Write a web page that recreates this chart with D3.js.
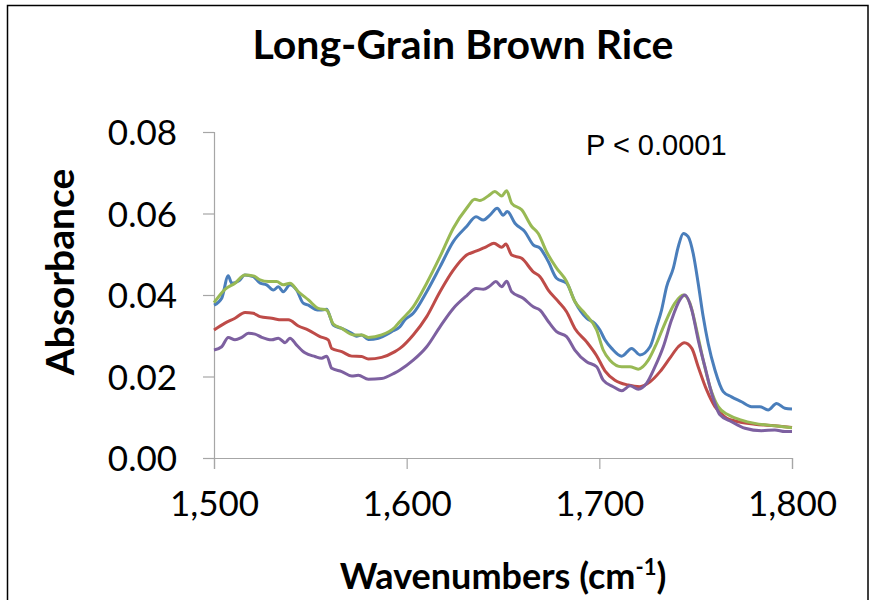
<!DOCTYPE html>
<html>
<head>
<meta charset="utf-8">
<script src="https://cdn.jsdelivr.net/npm/d3@7"></script>
<style>
  body { margin: 0; background: #fff; }
  svg { display: block; }
</style>
</head>
<body>
<svg id="chart"></svg>
<script>
// spectra, [wavenumber, absorbance] pairs, one array per sample
var blueSpec = [
  [1500,0.0375],[1504,0.0392],[1507.4,0.0447],[1509.2,0.0429],[1513,0.0435],[1516,0.0449],
  [1520.4,0.0445],[1524,0.0429],[1527.3,0.0425],[1530.8,0.0412],[1533.4,0.0420],[1536,0.0408],
  [1539.4,0.0425],[1542.9,0.0412],[1546.3,0.0380],[1549,0.0375],[1552.4,0.0365],[1555,0.0363],
  [1558.5,0.0365],[1560.2,0.0347],[1561.9,0.0326],[1566.3,0.0318],[1571.5,0.0306],[1574,0.0299],
  [1576.6,0.0302],[1580.1,0.0291],[1585.3,0.0294],[1592.2,0.0310],[1596.5,0.0322],[1599.1,0.0339],
  [1603.4,0.0355],[1610.4,0.0408],[1617.3,0.0469],[1624.2,0.0531],[1631.1,0.0568],[1636,0.0592],
  [1639.8,0.0584],[1643.2,0.0596],[1647,0.0613],[1650.1,0.0596],[1652.2,0.0605],[1656.2,0.0576],
  [1661.4,0.0555],[1665.7,0.0523],[1669.2,0.0515],[1673.5,0.0482],[1677.8,0.0441],[1683,0.0429],
  [1687.3,0.0384],[1693.4,0.0343],[1697.7,0.0330],[1700.3,0.0314],[1702.9,0.0290],[1706.4,0.0269],
  [1711.6,0.0250],[1716.8,0.0269],[1721.1,0.0253],[1726.3,0.0273],[1729.7,0.0322],[1732.3,0.0363],
  [1734.9,0.0420],[1738.4,0.0466],[1741,0.0519],[1743.6,0.0551],[1746.1,0.0543],[1748.7,0.0502],
  [1751.3,0.0429],[1753.9,0.0347],[1756.5,0.0281],[1760,0.0216],[1764.3,0.0163],[1768.6,0.0150],
  [1773.8,0.0138],[1779,0.0126],[1783.3,0.0126],[1787.6,0.0118],[1792,0.0134],[1796.3,0.0122],
  [1800,0.0120]
];

var redSpec = [
  [1500,0.0314],[1505.7,0.0331],[1510.9,0.0343],[1516.1,0.0357],[1520.4,0.0355],[1523.9,0.0347],
  [1530,0.0343],[1535.1,0.0339],[1538.6,0.0339],[1543.8,0.0324],[1549,0.0314],[1555,0.0298],
  [1559.3,0.0290],[1561.1,0.0269],[1566.3,0.0261],[1571.5,0.0250],[1576.6,0.0249],[1580.1,0.0243],
  [1587,0.0247],[1593.9,0.0261],[1596.5,0.0269],[1603.4,0.0302],[1610.4,0.0347],[1617.3,0.0408],
  [1624.2,0.0461],[1631.1,0.0498],[1636.3,0.0508],[1641.5,0.0519],[1645.3,0.0527],[1649.3,0.0517],
  [1651.5,0.0525],[1654.5,0.0498],[1659.7,0.0490],[1665.7,0.0457],[1669.2,0.0445],[1673.5,0.0412],
  [1678.7,0.0384],[1683,0.0359],[1687.3,0.0318],[1693.4,0.0285],[1698.6,0.0251],[1702.9,0.0214],
  [1708.1,0.0191],[1715,0.0179],[1721.1,0.0175],[1726.3,0.0187],[1731.5,0.0212],[1736.6,0.0245],
  [1741,0.0273],[1744.1,0.0283],[1748,0.0269],[1751.3,0.0224],[1755.7,0.0167],[1760,0.0126],
  [1765.2,0.0101],[1772.1,0.0089],[1780.7,0.0083],[1791.1,0.0079],[1800,0.0075]
];

var greenSpec = [
  [1500,0.0381],[1505.7,0.0414],[1510.9,0.0429],[1516.1,0.0449],[1520.4,0.0447],[1523.9,0.0437],
  [1528.2,0.0433],[1532.5,0.0433],[1536,0.0425],[1539.4,0.0429],[1543.8,0.0408],[1549,0.0388],
  [1554.1,0.0367],[1558.5,0.0363],[1561.9,0.0329],[1566.3,0.0318],[1572.3,0.0302],[1576.6,0.0302],
  [1580.1,0.0296],[1587,0.0302],[1593.9,0.0321],[1596.5,0.0335],[1603.4,0.0371],[1610.4,0.0429],
  [1617.3,0.0494],[1624.2,0.0564],[1631.1,0.0613],[1635.4,0.0635],[1638,0.0632],[1642.3,0.0643],
  [1645.8,0.0654],[1649.3,0.0643],[1651.9,0.0656],[1654.5,0.0625],[1659.7,0.0609],[1664.9,0.0568],
  [1668.3,0.0551],[1672.6,0.0506],[1677.8,0.0466],[1683,0.0433],[1687.3,0.0384],[1692.5,0.0355],
  [1698.6,0.0314],[1702,0.0265],[1705.5,0.0240],[1711.6,0.0224],[1715.9,0.0224],[1720.2,0.0218],
  [1725.4,0.0240],[1729.7,0.0281],[1734,0.0330],[1739.2,0.0380],[1743.6,0.0400],[1747,0.0380],
  [1750.5,0.0314],[1753.9,0.0240],[1757.4,0.0175],[1761.7,0.0126],[1766.9,0.0106],[1773.8,0.0093],
  [1780.7,0.0085],[1791.1,0.0079],[1800,0.0074]
];

var purpleSpec = [
  [1500,0.0265],[1504,0.0273],[1507.4,0.0296],[1510.9,0.0290],[1514.4,0.0296],[1517.8,0.0306],
  [1521.3,0.0304],[1524.8,0.0296],[1530,0.0290],[1533.4,0.0294],[1536.9,0.0283],[1539.4,0.0294],
  [1542.9,0.0277],[1547.2,0.0258],[1552.4,0.0249],[1555.9,0.0245],[1558.5,0.0250],[1561.1,0.0220],
  [1566.3,0.0212],[1571.5,0.0201],[1574.9,0.0203],[1580.1,0.0193],[1587,0.0195],[1593.9,0.0209],
  [1596.5,0.0216],[1603.4,0.0240],[1610.4,0.0273],[1617.3,0.0322],[1624.2,0.0367],[1631.1,0.0398],
  [1636,0.0416],[1639.8,0.0414],[1643.2,0.0422],[1646.3,0.0433],[1649.3,0.0420],[1651.9,0.0434],
  [1654.5,0.0408],[1660.5,0.0392],[1665.7,0.0371],[1669.2,0.0363],[1673.5,0.0335],[1677.8,0.0310],
  [1683,0.0298],[1687.3,0.0265],[1693.4,0.0236],[1698.6,0.0224],[1702,0.0191],[1707.2,0.0175],
  [1711.6,0.0165],[1715.9,0.0177],[1720.2,0.0169],[1724.5,0.0183],[1728.9,0.0224],[1733.2,0.0273],
  [1737.5,0.0339],[1741.8,0.0388],[1744.4,0.0400],[1748,0.0363],[1751.3,0.0290],[1754.8,0.0224],
  [1758.3,0.0159],[1762.6,0.0106],[1768.6,0.0089],[1775.6,0.0073],[1784.2,0.0067],[1791.1,0.0069],
  [1796.3,0.0065],[1800,0.0065]
];

var xTicks = [1500, 1600, 1700, 1800];
var yTicks = [0, 0.02, 0.04, 0.06, 0.08];

// drawing order matters where the traces overlap
var series = [
  {name: "blue",   color: "#4a7ebb", values: blueSpec},
  {name: "red",    color: "#be4b48", values: redSpec},
  {name: "green",  color: "#98b954", values: greenSpec},
  {name: "purple", color: "#7d60a0", values: purpleSpec}
];

var screen = {width: 875, height: 600};
var margins = {left: 214, top: 132, right: 83, bottom: 142};

var xScale = d3.scaleLinear()
               .domain([1500, 1800])
               .range([margins.left, screen.width - margins.right]);

var yScale = d3.scaleLinear()
               .domain([0, 0.08])
               .range([screen.height - margins.bottom, margins.top]);

var svg = d3.select("#chart")
            .attr("width", screen.width)
            .attr("height", screen.height);

// outer frame, runs off the bottom of the page
svg.append("rect")
   .attr("x", 7.5)
   .attr("y", 5.5)
   .attr("width", 860.5)
   .attr("height", 640)
   .attr("fill", "none")
   .attr("stroke", "#000")
   .attr("stroke-width", 1.5);

var axisColor = "#a6a6a6";
var tickFont = "Lato, 'Open Sans', sans-serif";

//y-axis
var yAxis = d3.axisLeft(yScale)
              .tickValues(yTicks)
              .tickSize(11)
              .tickPadding(26)
              .tickFormat(d3.format(".2f"));

var gy = svg.append("g")
            .attr("transform", "translate(" + margins.left + ",0)")
            .call(yAxis);

//x-axis
var xAxis = d3.axisBottom(xScale)
              .tickValues(xTicks)
              .tickSize(11)
              .tickPadding(20)
              .tickFormat(d3.format(","));

var gx = svg.append("g")
            .attr("transform", "translate(0," + yScale(0) + ")")
            .call(xAxis);

[gx, gy].forEach(function(g) {
  g.select(".domain").attr("stroke", axisColor).attr("stroke-width", 1.2);
  g.selectAll(".tick line").attr("stroke", axisColor).attr("stroke-width", 1.2);
  g.selectAll(".tick text")
   .attr("fill", "#000")
   .style("font-family", tickFont)
   .style("font-size", "35px");
});
gy.selectAll(".tick text").attr("dy", "0.36em");
gx.selectAll(".tick text").attr("dy", "0.78em");

// spectra
var line = d3.line()
             .x(function(d) {return xScale(d[0]);})
             .y(function(d) {return yScale(d[1]);})
             .curve(d3.curveMonotoneX);

svg.selectAll("path.spectrum")
   .data(series)
   .enter()
   .append("path")
   .classed("spectrum", true)
   .attr("d", function(d) {return line(d.values);})
   .attr("fill", "none")
   .attr("stroke", function(d) {return d.color;})
   .attr("stroke-width", 3)
   .attr("stroke-linejoin", "round");

//titles
svg.append("text")
   .attr("x", 463)
   .attr("y", 59)
   .attr("text-anchor", "middle")
   .style("font-family", tickFont)
   .style("font-weight", "bold")
   .style("font-size", "41px")
   .text("Long-Grain Brown Rice");

svg.append("text")
   .attr("transform", "translate(74,272) rotate(-90)")
   .attr("text-anchor", "middle")
   .style("font-family", tickFont)
   .style("font-weight", "bold")
   .style("font-size", "39px")
   .text("Absorbance");

var xTitle = svg.append("text")
   .attr("x", (xScale(1500) + xScale(1800)) / 2)
   .attr("y", 589)
   .attr("text-anchor", "middle")
   .style("font-family", tickFont)
   .style("font-weight", "bold")
   .style("font-size", "36px");
xTitle.append("tspan").text("Wavenumbers (cm");
xTitle.append("tspan").attr("dy", -14).style("font-size", "22px").text("-1");
xTitle.append("tspan").attr("dy", 14).text(")");

svg.append("text")
   .attr("x", 586)
   .attr("y", 155)
   .style("font-family", "'Liberation Sans', Arial, sans-serif")
   .style("font-size", "29px")
   .text("P < 0.0001");
</script>
</body>
</html>
